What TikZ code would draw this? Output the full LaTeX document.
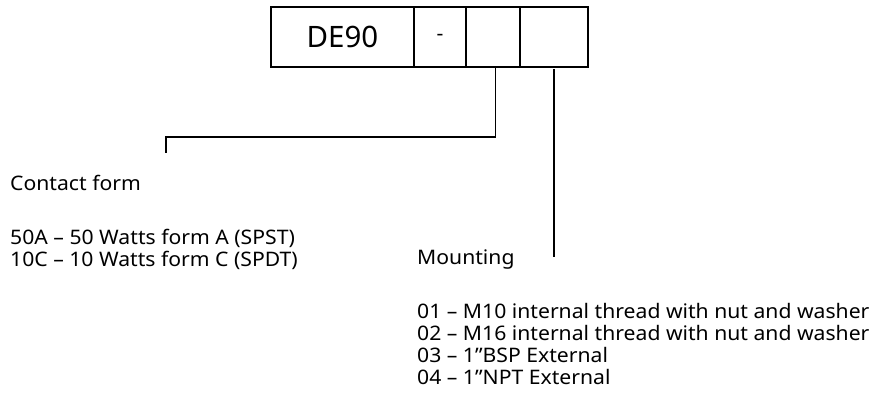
\documentclass[tikz,border=0pt]{standalone}
\usepackage{fontspec}
\setmainfont{Noto Sans}
\newfontfamily\widefont{Noto Sans}[FakeStretch=1.058]
\begin{document}
\begin{tikzpicture}[x=1pt,y=-1pt,
  cell/.style={draw, line width=1.6pt, inner sep=0pt, minimum height=60pt},
  lbl/.style={anchor=base west, inner sep=0pt, font=\widefont\fontsize{20}{22}\selectfont},
  thick1/.style={line width=1.6pt},
  thin1/.style={line width=1.1pt}]
\useasboundingbox (0,0) rectangle (874,406);
\node[cell, minimum width=143pt, font=\fontsize{29.5}{34}\selectfont] (c1) at (342.5,37) {DE90};
\node[cell, minimum width=52pt, font=\widefont\fontsize{20}{22}\selectfont] (c2) at (440,37) {-};
\node[cell, minimum width=54pt] (c3) at (493,37) {};
\node[cell, minimum width=68pt] (c4) at (554,37) {};
\coordinate (k1) at (166,137);
\coordinate (k2) at (166,153);
\draw[thick1] ([xshift=2.5pt]c3.south) |- (k1) -- (k2);
\coordinate (m1) at (554,257);
\draw[thin1] ([yshift=-1pt]c4.south) -- (m1);
\node[lbl] (cf) at (10,190.5) {Contact form};
\node[lbl] (a1) at (10,244) {50A – 50 Watts form A (SPST)};
\node[lbl] (a2) at (10,266) {10C – 10 Watts form C (SPDT)};
\node[lbl] (mt) at (417,264.5) {Mounting};
\node[lbl] (b1) at (417,318) {01 – M10 internal thread with nut and washer};
\node[lbl] (b2) at (417,340) {02 – M16 internal thread with nut and washer};
\node[lbl] (b3) at (417,362) {03 – 1”BSP External};
\node[lbl] (b4) at (417,384) {04 – 1”NPT External};
\end{tikzpicture}
\end{document}
